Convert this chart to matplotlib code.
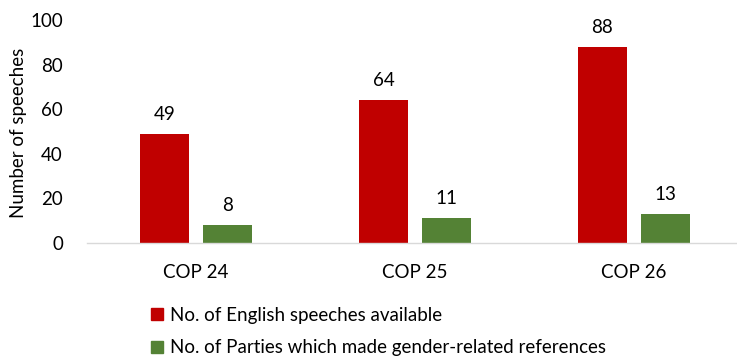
import matplotlib
matplotlib.use("Agg")
import matplotlib.pyplot as plt
from matplotlib.patches import Patch
import numpy as np

categories = ["COP 24", "COP 25", "COP 26"]
english_speeches = [49, 64, 88]
gender_parties = [8, 11, 13]
series_names = ["No. of English speeches available",
                "No. of Parties which made gender-related references"]
y_ticks = [0, 20, 40, 60, 80, 100]

RED = "#C00000"
GREEN = "#548235"

plt.rcParams["font.family"] = ["Lato", "DejaVu Sans"]

fig = plt.figure(figsize=(7.37, 3.58), dpi=100)
ax = fig.add_axes([86.5 / 737, 1 - 243 / 358, 657 / 737, 223 / 358])

x = np.arange(len(categories))
w = 0.224
off = 0.144
b1 = ax.bar(x - off, english_speeches, w, color=RED)
b2 = ax.bar(x + off, gender_parties, w, color=GREEN)

for bars, vals in ((b1, english_speeches), (b2, gender_parties)):
    for rect, v in zip(bars, vals):
        ax.annotate(str(v), (rect.get_x() + rect.get_width() / 2, v),
                    xytext=(0, 8), textcoords="offset points",
                    ha="center", va="bottom", fontsize=13.5, color="#000000")

ax.set_xlim(-0.5, 2.5)
ax.set_ylim(0, 100)
ax.set_yticks(y_ticks)
ax.set_xticks(x)
ax.set_xticklabels(categories)
ax.tick_params(axis="both", length=0, labelsize=13.5, colors="#000000")
ax.tick_params(axis="y", pad=17)
ax.tick_params(axis="x", pad=15)
for s in ("top", "right", "left"):
    ax.spines[s].set_visible(False)
ax.spines["bottom"].set_color("#D9D9D9")
ax.spines["bottom"].set_linewidth(1.0)

fig.text(19 / 737, 1 - 133 / 358, "Number of speeches", rotation=90,
         ha="center", va="center", fontsize=13.5, color="#000000")

handles = [Patch(color=RED), Patch(color=GREEN)]
fig.legend(handles, series_names, loc="upper left",
           bbox_to_anchor=(143 / 737, 1 - 299 / 358),
           frameon=False, fontsize=13.5, handlelength=0.65, handleheight=0.65,
           handletextpad=0.4, labelspacing=0.85, borderaxespad=0)

fig.savefig("out.png", dpi=100)
